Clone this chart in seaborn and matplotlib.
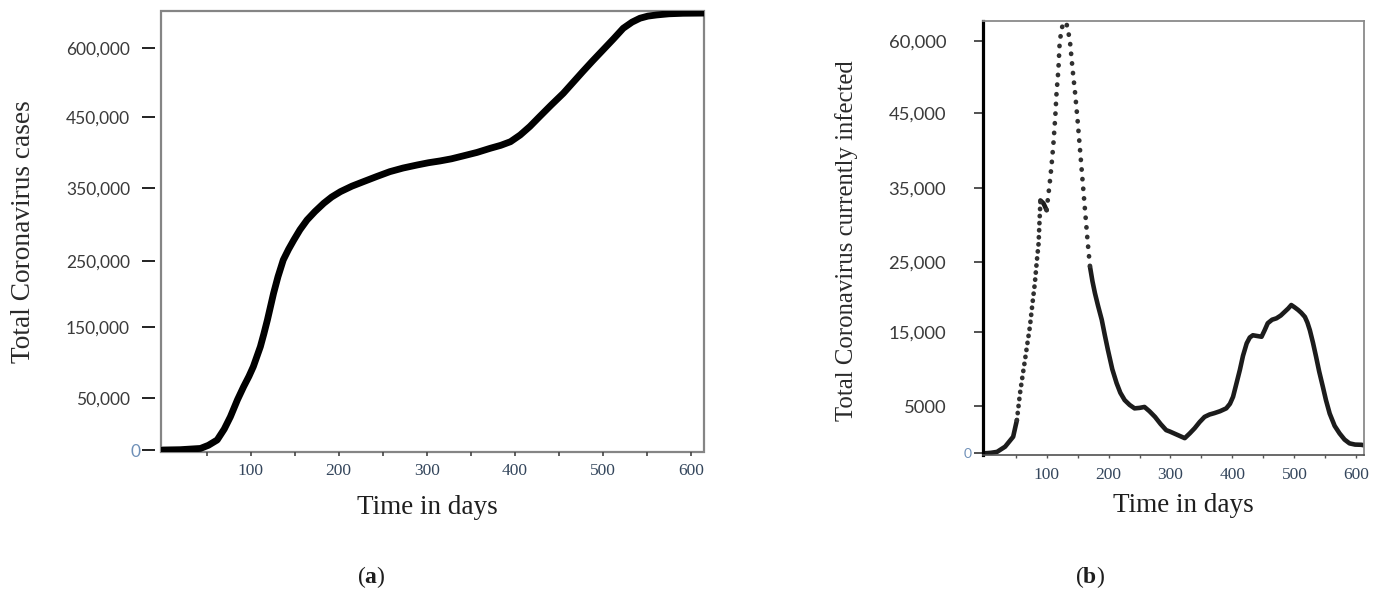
import numpy as np
import matplotlib
matplotlib.use("Agg")
import matplotlib.pyplot as plt
import seaborn as sns

# ---- cumulative cases (panel a) ----
days_a = [0, 20, 43, 52, 62, 70, 77, 85, 92, 98, 103, 111, 115, 119, 126, 131, 137, 143,
          149, 156, 164, 173, 183, 192, 202, 215, 228, 243, 258, 273, 289, 302, 315, 328,
          341, 357, 372, 384, 395, 406, 417, 428, 441, 455, 466, 477, 488, 500, 512, 523,
          533, 542, 551, 561, 575, 591, 614]
cases_a = [0, 300, 1500, 4500, 9600, 20000, 31800, 48000, 65500, 80000, 93700, 121800,
           140000, 160200, 200800, 226000, 251400, 266000, 278900, 293000, 306400,
           318000, 329400, 338000, 345400, 353000, 359300, 366500, 373400, 378500,
           382800, 386000, 388500, 391500, 395500, 400500, 406300, 410500, 415600,
           425000, 437000, 451300, 476000, 501700, 525000, 548300, 571000, 595000,
           619000, 641800, 655000, 663400, 668000, 670500, 673000, 674100, 674500]

# ---- currently infected (panel b) ----
days_b = [0, 10, 20, 33, 46, 52, 57, 61, 65, 69, 73, 77, 81, 84, 87, 90, 95, 100, 105,
          108, 111, 114, 116, 119, 121, 124, 127, 130, 132, 135, 138, 142, 146, 150, 154,
          158, 162, 166, 170, 174, 178, 183, 189, 194, 199, 206, 213, 219, 226, 234, 242,
          250, 258, 266, 275, 284, 293, 299, 311, 323, 331, 339, 347, 355, 363, 371, 380,
          390, 396, 401, 406, 412, 417, 423, 428, 433, 440, 447, 452, 457, 464, 471, 478,
          484, 490, 495, 500, 506, 511, 517, 521, 525, 530, 535, 540, 546, 551, 557, 565,
          573, 581, 589, 598, 608, 612]
infected_b = [0, 50, 150, 700, 1750, 3500, 6700, 9000, 11200, 13500, 15800, 19000, 22000,
              25000, 27500, 33300, 32900, 32000, 35600, 38000, 40900, 44500, 49100, 54000,
              59500, 62500, 63700, 64000, 63700, 62000, 59500, 54000, 49100, 44000, 40000,
              36000, 32000, 28000, 24400, 22300, 20600, 18800, 16800, 14600, 12600, 10000,
              8100, 6800, 5800, 5150, 4750, 4800, 4900, 4450, 3850, 3100, 2450, 2300, 1950,
              1600, 2100, 2650, 3300, 3850, 4100, 4250, 4450, 4750, 5300, 6250, 7900, 9900,
              11800, 13500, 14300, 14600, 14500, 14400, 15300, 16300, 16800, 17000, 17400,
              17900, 18400, 18900, 18600, 18200, 17800, 17200, 16400, 15300, 13600, 11700,
              9700, 7600, 5800, 4200, 2900, 2100, 1450, 1050, 920, 900, 850]

# ---- axis ticks and labels ----
x_ticks = [100, 200, 300, 400, 500, 600]
x_minor = [50, 150, 250, 350, 450, 550]
x_tick_labels = ["100", "200", "300", "400", "500", "600"]

ticks_a = [0, 50000, 150000, 250000, 350000, 450000, 600000]
tick_labels_a = ["0", "50,000", "150,000", "250,000", "350,000", "450,000", "600,000"]
ticks_b = [0, 5000, 15000, 25000, 35000, 45000, 60000]
tick_labels_b = ["0", "5000", "15,000", "25,000", "35,000", "45,000", "60,000"]

# The vertical axes are piecewise linear: each labelled value sits at a fixed height.
stops_a = [0, 52.3, 123.3, 189, 261.7, 332.7, 402.3]
stops_b = [0, 47.3, 121, 191, 265.6, 340.6, 412.3]


def piecewise_scale(values, heights):
    v = np.asarray(values, float)
    h = np.asarray(heights, float)
    lo_s = (h[1] - h[0]) / (v[1] - v[0])
    hi_s = (h[-1] - h[-2]) / (v[-1] - v[-2])

    def fwd(x):
        x = np.asarray(x, float)
        y = np.interp(x, v, h)
        y = np.where(x < v[0], h[0] + (x - v[0]) * lo_s, y)
        y = np.where(x > v[-1], h[-1] + (x - v[-1]) * hi_s, y)
        return y

    def inv(y):
        y = np.asarray(y, float)
        x = np.interp(y, h, v)
        x = np.where(y < h[0], v[0] + (y - h[0]) / lo_s, x)
        x = np.where(y > h[-1], v[-1] + (y - h[-1]) / hi_s, x)
        return x

    return fwd, inv


sns.set_style("white")
plt.rcParams["font.family"] = ["Liberation Serif", "DejaVu Serif"]
plt.rcParams["mathtext.fontset"] = "custom"
plt.rcParams["mathtext.rm"] = "Liberation Serif"
plt.rcParams["mathtext.bf"] = "Liberation Serif:bold"

W, H = 1378, 595
fig = plt.figure(figsize=(W / 100, H / 100), dpi=100)
ax_a = fig.add_axes([161 / W, 1 - 452 / H, 543 / W, 441 / H])
ax_b = fig.add_axes([983 / W, 1 - 455 / H, 381 / W, 434 / H])

serif = "Liberation Serif"
sans = "Lato"
tick_col = "#3a3a3a"
xtick_col = "#34465c"
zero_col = "#6f90b8"

# ---------------- panel (a) ----------------
sns.lineplot(x=days_a, y=cases_a, ax=ax_a, color="black", linewidth=4.9,
             solid_capstyle="round", solid_joinstyle="round")
fa, ia = piecewise_scale(ticks_a, stops_a)
ax_a.set_yscale("function", functions=(fa, ia))
ax_a.set_xlim(-1.8, 614.7)
ax_a.set_ylim(-1900, 679000)

for s in ax_a.spines.values():
    s.set_visible(False)
ax_a.patch.set_edgecolor("#858585")
ax_a.patch.set_linewidth(1.6)
ax_a.spines["left"].set_position(("outward", 4.3))

ax_a.set_yticks(ticks_a, tick_labels_a)
ax_a.tick_params(axis="y", which="major", direction="out", length=9.4, width=1.4,
                 color="#222222", pad=8.6, labelsize=12.5, labelcolor=tick_col, left=True)
for lab in ax_a.get_yticklabels():
    lab.set_fontfamily(sans)
t0 = ax_a.yaxis.get_major_ticks()[0]
t0.tick1line.set_markersize(5)
t0.set_pad(1)
t0.label1.set_color(zero_col)

ax_a.set_xticks(x_ticks, x_tick_labels)
ax_a.set_xticks(x_minor, minor=True)
ax_a.tick_params(axis="x", which="both", direction="out", length=3, width=1.2,
                 color="#444444", pad=5, labelsize=12.5, labelcolor=xtick_col, bottom=True)
for lab in ax_a.get_xticklabels():
    lab.set_fontfamily(serif)

ax_a.set_xlabel("Time in days", fontsize=19.5, family=serif, color="#1e1e1e")
ax_a.set_ylabel("Total Coronavirus cases", fontsize=19.7, family=serif, color="#2a2a2a")
ax_a.xaxis.label.set_va("center")
ax_a.xaxis.set_label_coords(0.49, -0.125)
ax_a.yaxis.label.set_va("center")
ax_a.yaxis.label.set_ha("center")
ax_a.yaxis.set_label_coords(-0.254, 0.5)

# ---------------- panel (b) ----------------
# Daily samples spread apart where the curve climbs or falls fast, so those
# stretches are drawn as a chain of dots; the slow stretches read as a solid band.
db = np.asarray(days_b)
vb = np.asarray(infected_b)
solid_parts = [(db <= 52), (db >= 88) & (db <= 103), (db >= 168)]
dotted_parts = [((db >= 50) & (db <= 90), 1.45), ((db >= 100) & (db <= 172), 2.0)]

for part in solid_parts:
    sns.lineplot(x=db[part], y=vb[part], ax=ax_b, color="#1c1c1c", linewidth=3.3,
                 solid_capstyle="round", solid_joinstyle="round")
for part, gap in dotted_parts:
    sns.lineplot(x=db[part], y=vb[part], ax=ax_b, color="#303030", linewidth=3.4,
                 linestyle=(0, (0.05, gap)), dash_capstyle="round")

fb, ib = piecewise_scale(ticks_b, stops_b)
ax_b.set_yscale("function", functions=(fb, ib))
ax_b.set_xlim(-2.7, 612.4)
ax_b.set_ylim(-180, 64200)

for side in ("top", "right"):
    ax_b.spines[side].set_color("#8a8a8a")
    ax_b.spines[side].set_linewidth(1.3)
ax_b.spines["bottom"].set_color("#505050")
ax_b.spines["bottom"].set_linewidth(1.2)
ax_b.spines["left"].set_color("black")
ax_b.spines["left"].set_linewidth(2.3)

ax_b.set_yticks(ticks_b, tick_labels_b)
ax_b.tick_params(axis="y", which="major", direction="out", length=6.5, width=1.2,
                 color="#333333", pad=20, labelsize=13.3, labelcolor=tick_col, left=True)
for lab in ax_b.get_yticklabels():
    lab.set_fontfamily(sans)
t0 = ax_b.yaxis.get_major_ticks()[0]
t0.set_pad(2)
t0.label1.set_color(zero_col)
t0.label1.set_fontsize(10)

ax_b.set_xticks(x_ticks, x_tick_labels)
ax_b.set_xticks(x_minor, minor=True)
ax_b.tick_params(axis="x", which="both", direction="out", length=2.5, width=1.0,
                 color="#555555", pad=6, labelsize=12.5, labelcolor=xtick_col, bottom=True)
for lab in ax_b.get_xticklabels():
    lab.set_fontfamily(serif)

ax_b.set_xlabel("Time in days", fontsize=19.5, family=serif, color="#1e1e1e")
ax_b.set_ylabel("Total Coronavirus currently infected", fontsize=17.8, family=serif,
                color="#2a2a2a")
ax_b.xaxis.label.set_va("center")
ax_b.xaxis.set_label_coords(0.525, -0.1175)
ax_b.yaxis.label.set_va("center")
ax_b.yaxis.label.set_ha("center")
ax_b.yaxis.set_label_coords(-0.358, 0.495)

# ---------------- panel captions ----------------
fig.text(371 / W, 1 - 577 / H, r"($\mathbf{a}$)", ha="center", va="center",
         fontsize=17, family=serif, color="#1e1e1e")
fig.text(1090 / W, 1 - 577 / H, r"($\mathbf{b}$)", ha="center", va="center",
         fontsize=17, family=serif, color="#1e1e1e")

fig.savefig("out.png", dpi=100, facecolor="white")
